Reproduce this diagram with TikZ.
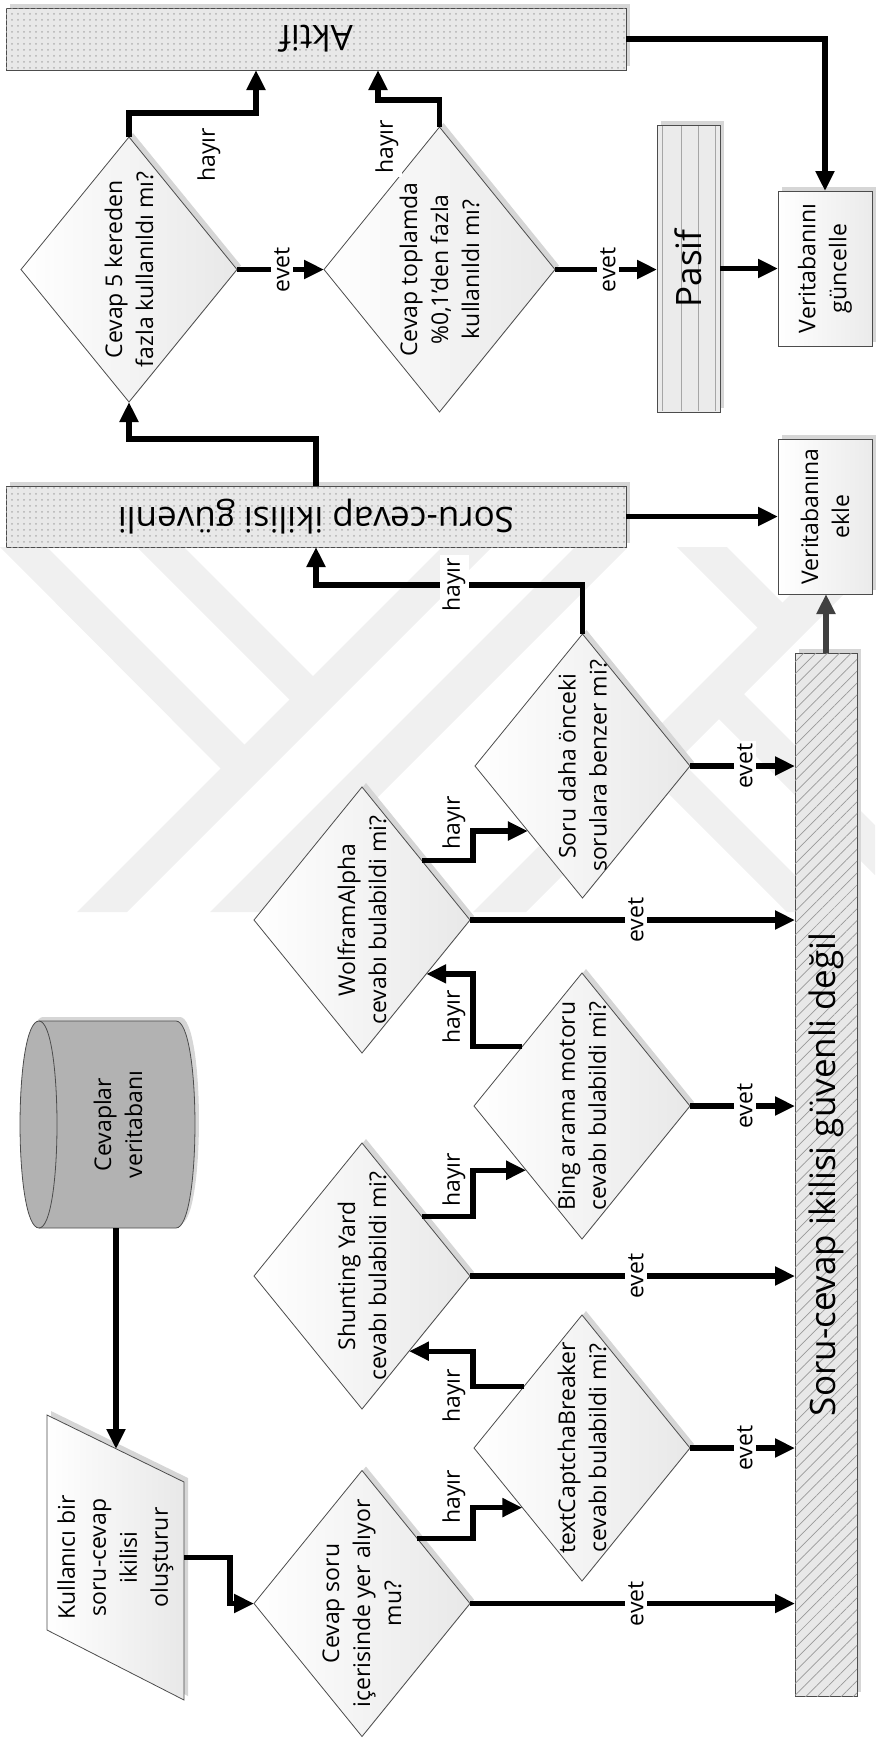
\documentclass[tikz,border=0pt]{standalone}
\usepackage{fontspec}
\setmainfont{Open Sans}
\usetikzlibrary{arrows.meta,shapes.geometric,shadows,patterns,patterns.meta}
\begin{document}
\begin{tikzpicture}[x=0.5pt,y=-0.5pt,
  conn/.style={line width=2.6pt, line join=miter, -{Triangle[length=10pt,width=9pt]}},
  shd/.style={general shadow={fill=black!16, shadow xshift=2pt, shadow yshift=2pt}},
  dia/.style={shape=diamond, draw=black!70, line width=0.4pt, inner sep=0pt, outer sep=0pt, left color=white, right color=black!9, shd},
  pbox/.style={rectangle, draw=black!70, line width=0.4pt, inner sep=0pt, outer sep=0pt, shd},
  anch/.style={rectangle, inner sep=0pt, outer sep=0pt},
  txt/.style={rotate=90, align=center, inner sep=0pt, font=\fontsize{11.5}{15.5}\selectfont},
  bigtxt/.style={inner sep=0pt, font=\fontsize{17.5}{20}\selectfont},
  lbl/.style={rotate=90, fill=white, inner sep=1.5pt, font=\fontsize{11.5}{14}\selectfont},
  wm/.style={fill=black!6, draw=none},
]
\useasboundingbox (0,0) rectangle (875,1742);

% watermark
\begin{scope}
\clip (0,547) rectangle (875,912);
\fill[wm] (0,547) -- (47,547) -- (257,757) -- (233,781) -- cycle;
\fill[wm] (137,547) -- (184,547) -- (325.5,688.5) -- (302,712) -- cycle;
\fill[wm] (77,912) -- (127,912) -- (492,547) -- (442,547) -- cycle;
\fill[wm] (210,912) -- (263,912) -- (628,547) -- (575,547) -- cycle;
\fill[wm] (473,912) -- (526,912) -- (891,547) -- (838,547) -- cycle;
\fill[wm] (705.5,705.5) -- (730.5,680.5) -- (875,825) -- (875,875) -- cycle;
\fill[wm] (643,768) -- (665.5,745.5) -- (832,912) -- (787,912) -- cycle;
\fill[wm] (677,547) -- (727,547) -- (795.5,615.5) -- (770.5,640.5) -- cycle;
\end{scope}

% top boxes
\node[pbox, fill=black!9, postaction={pattern=dots, pattern color=black!30}, minimum width=310pt, minimum height=31pt] (aktif) at (316,39) {};
\node[bigtxt, rotate=180] (aktift) at (aktif) {Aktif};

\node[pbox, left color=white, right color=black!8, minimum width=47pt, minimum height=77.5pt] (guncelle) at (825,268.5) {};
\node[txt] (guncellet) at (guncelle) {Veritabanını\\güncelle};

\node[pbox, fill=black!8, minimum width=31.5pt, minimum height=143.5pt] (pasif) at (688.5,268.5) {};
\foreach \xx in {662,681,698,715} \draw[black!35, line width=0.5pt] (\xx,126) -- (\xx,411);
\node[bigtxt, rotate=90] (pasift) at (pasif) {Pasif};

\node[dia, minimum width=108pt, minimum height=132.5pt] (d1) at (129,269.5) {};
\node[txt] (d1t) at (d1) {Cevap 5 kereden\\fazla kullanıldı mı?};
\node[dia, minimum width=115.5pt, minimum height=142.5pt] (d2) at (439.5,269.5) {};
\node[txt] (d2t) at (d2) {Cevap toplamda\\\%0,1'den fazla\\kullanıldı mı?};

\node[pbox, fill=black!9, postaction={pattern=dots, pattern color=black!30}, minimum width=310pt, minimum height=30.5pt] (guv) at (316,516.5) {};
\node[bigtxt, rotate=180] (guvt) at (guv) {Soru-cevap ikilisi güvenli};

\node[pbox, left color=white, right color=black!8, minimum width=47pt, minimum height=77.5pt] (ekle) at (825,516.5) {};
\node[txt] (eklet) at (ekle) {Veritabanına\\ekle};

% bar
\node[pbox, fill=black!9, postaction={pattern={Lines[angle=45,distance=4.2pt,line width=0.35pt]}, pattern color=black!40}, minimum width=31pt, minimum height=521.5pt] (bar) at (826,1174.5) {};
\node[bigtxt, rotate=90] (bart) at (bar) {Soru-cevap ikilisi güvenli değil};

% decision diamonds
\node[dia, minimum width=107.5pt, minimum height=132pt] (soru) at (582.5,766) {};
\node[txt] (sorut) at (soru) {Soru daha önceki\\sorulara benzer mi?};
\node[dia, minimum width=108pt, minimum height=133pt] (wolf) at (362,920) {};
\node[txt] (wolft) at (wolf) {WolframAlpha\\cevabı bulabildi mi?};
\node[dia, minimum width=108pt, minimum height=133pt] (bing) at (582,1106) {};
\node[txt] (bingt) at (bing) {Bing arama motoru\\cevabı bulabildi mi?};
\node[dia, minimum width=108pt, minimum height=133pt] (shunt) at (362,1276) {};
\node[txt] (shuntt) at (shunt) {Shunting Yard\\cevabı bulabildi mi?};
\node[dia, minimum width=108pt, minimum height=133pt] (tc) at (582,1448) {};
\node[txt] (tct) at (tc) {textCaptchaBreaker\\cevabı bulabildi mi?};
\node[dia, minimum width=108pt, minimum height=133pt] (cs) at (362,1603.5) {};
\node[txt] (cst) at (cs) {Cevap soru\\içerisinde yer alıyor\\mu?};

% database cylinder
\node[anch, minimum width=87.5pt, minimum height=103.5pt] (db) at (107.5,1124.5) {};
\fill[black!16, xshift=2pt, yshift=2pt] (39,1021) -- (176,1021) .. controls (201.3,1021) and (201.3,1228) .. (176,1228) -- (39,1228) .. controls (13.7,1228) and (13.7,1021) .. (39,1021) -- cycle;
\draw[black!70, line width=0.4pt, fill=black!30] (39,1021) -- (176,1021) .. controls (201.3,1021) and (201.3,1228) .. (176,1228) -- (39,1228) .. controls (13.7,1228) and (13.7,1021) .. (39,1021) -- cycle;
\draw[black!70, line width=0.4pt] (39,1021) .. controls (63,1021) and (63,1228) .. (39,1228);
\node[txt] (dbt) at (118,1124.5) {Cevaplar\\veritabanı};

% input parallelogram
\node[anch, minimum width=68.5pt, minimum height=142.5pt] (par) at (115.5,1557.5) {};
\fill[black!16, xshift=2pt, yshift=2pt] (47,1415) -- (184,1482) -- (184,1700) -- (47,1630) -- cycle;
\draw[black!70, line width=0.4pt, left color=white, right color=black!9] (47,1415) -- (184,1482) -- (184,1700) -- (47,1630) -- cycle;
\node[txt] (part) at (par) {Kullanıcı bir\\soru-cevap\\ikilisi\\oluşturur};

% connectors
\coordinate (mid) at (473,0);
\coordinate (a1) at ([xshift=-30pt]aktif.south);
\coordinate (a2) at ([xshift=31pt]aktif.south);
\coordinate (ptop) at (116,1449);

\draw[conn] (aktif.east) -| (guncelle.north);
\draw[conn] (pasif.east) -- (pasif.east -| guncelle.west);
\draw[conn] (d1.east) -- (d2.west);
\draw[conn] (d2.east) -- (d2.east -| pasif.west);
\draw[conn] (d1.north) -- ++(0,-24) -| (a1);
\draw[conn] (d2.north) -- ++(0,-27) -| (a2);
\draw[conn] (guv.north) -- ++(0,-47) -| (d1.south);
\draw[conn] (soru.north) -- ++(0,-49) -| (guv.south);
\draw[conn] (guv.east) -- (guv.east -| ekle.west);
\draw[conn, black!75] (bar.north) -- (bar.north |- ekle.south);

\draw[conn] (soru.east) -- (soru.east -| bar.west);
\draw[conn] (wolf.east) -- (wolf.east -| bar.west);
\draw[conn] (bing.east) -- (bing.east -| bar.west);
\draw[conn] (shunt.east) -- (shunt.east -| bar.west);
\draw[conn] (tc.east) -- (tc.east -| bar.west);
\draw[conn] (cs.east) -- (cs.east -| bar.west);

\draw[conn] (wolf.45) -- (wolf.45 -| mid) |- (soru.230);
\draw[conn] (bing.135) -- (bing.135 -| mid) |- (wolf.320);
\draw[conn] (shunt.45) -- (shunt.45 -| mid) |- (bing.229);
\draw[conn] (tc.133) -- (tc.133 -| mid) |- (shunt.302);
\draw[conn] (cs.50) -- (cs.50 -| mid) |- (tc.225);

\draw[conn] (db.south -| ptop) -- (ptop);
\draw[conn] (par.east) -- ++(46,0) |- (cs.west);

% labels
\node[lbl] (l1) at (282,269.5) {evet};
\node[lbl] (l2) at (608,269.5) {evet};
\node[lbl] (l3) at (209,155) {hayır};
\node[lbl] (l4) at (387,147) {hayır};
\node[lbl] (l5) at (454,585) {hayır};
\node[lbl] (l6) at (454,823) {hayır};
\node[lbl] (l7) at (745,766) {evet};
\node[lbl] (l8) at (636,920) {evet};
\node[lbl] (l9) at (454,1017) {hayır};
\node[lbl] (l10) at (745,1106) {evet};
\node[lbl] (l11) at (454,1180) {hayır};
\node[lbl] (l12) at (636,1276) {evet};
\node[lbl] (l13) at (454,1396) {hayır};
\node[lbl] (l14) at (745,1448) {evet};
\node[lbl] (l15) at (454,1497) {hayır};
\node[lbl] (l16) at (636,1603.5) {evet};
\end{tikzpicture}
\end{document}
